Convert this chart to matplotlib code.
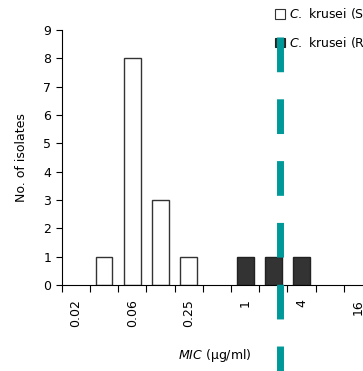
import matplotlib
matplotlib.use("Agg")
import matplotlib.pyplot as plt
from matplotlib.patches import Patch
import numpy as np

categories = ["0.02", "0.03", "0.06", "0.125", "0.25", "0.5", "1", "2", "4", "8", "16", "32"]
tick_labels = ["0.02", "", "0.06", "", "0.25", "", "1", "", "4", "", "16", ""]
susceptible = [0, 1, 8, 3, 1, 0, 0, 0, 0, 0, 0, 0]
resistant = [0, 0, 0, 0, 0, 0, 1, 1, 1, 0, 0, 0]
breakpoint_pos = 7.22

plt.rcParams['font.family'] = ['DejaVu Sans']
fig = plt.figure(figsize=(3.63, 3.71), dpi=100)
ax = fig.add_axes([61.7/363, 1-285/371, 338.6/363, 255/371])

x = np.arange(len(categories))
s_arr = np.array(susceptible)
r_arr = np.array(resistant)
ms = s_arr > 0
mr = r_arr > 0
ax.bar(x[ms], s_arr[ms], width=0.6, color="white", edgecolor="#333333", linewidth=1.0)
ax.bar(x[mr], r_arr[mr], width=0.6, color="#333333", edgecolor="#222222", linewidth=1.0)

ax.set_xlim(-0.5, len(categories) - 0.5)
ax.set_ylim(0, 9)
ax.set_yticks(range(0, 10))
ax.tick_params(axis='y', labelsize=9, length=4, width=0.8)

ax.set_xticks(np.arange(len(categories)) - 0.5)
ax.set_xticklabels([])
ax.tick_params(axis='x', which='major', length=5, width=0.8)
ax.set_xticks(x, minor=True)
ax.set_xticklabels(tick_labels, minor=True, rotation=90, fontsize=9)
ax.tick_params(axis='x', which='minor', length=0, pad=10)

for s in ["top", "right"]:
    ax.spines[s].set_visible(False)
ax.spines["left"].set_linewidth(0.8)
ax.spines["bottom"].set_linewidth(0.8)

ax.set_ylabel("No. of isolates", fontsize=9)
ax.yaxis.set_label_coords(-0.10, 0.5)
ax.set_xlabel("$\\it{MIC}$ (µg/ml)", fontsize=9)
ax.xaxis.set_label_coords(0.453, -0.245)

handles = [Patch(facecolor="white", edgecolor="#333333", linewidth=0.8),
           Patch(facecolor="#333333", edgecolor="#222222", linewidth=0.8)]
labels = ["$\\it{C.}$ krusei (S)", "$\\it{C.}$ krusei (R)"]
ax.legend(handles, labels, loc="upper left", bbox_to_anchor=(264/363, 1+5/371),
          bbox_transform=fig.transFigure, frameon=False, fontsize=9,
          handlelength=0.8, handleheight=0.8, handletextpad=0.3, labelspacing=1.1)

ax.plot([breakpoint_pos, breakpoint_pos], [8.76, -3.2], color="#009999", linewidth=5.0,
        linestyle=(0, (5.0, 3.9)), dash_capstyle="butt", clip_on=False, zorder=10)

fig.savefig("out.png", dpi=100)
